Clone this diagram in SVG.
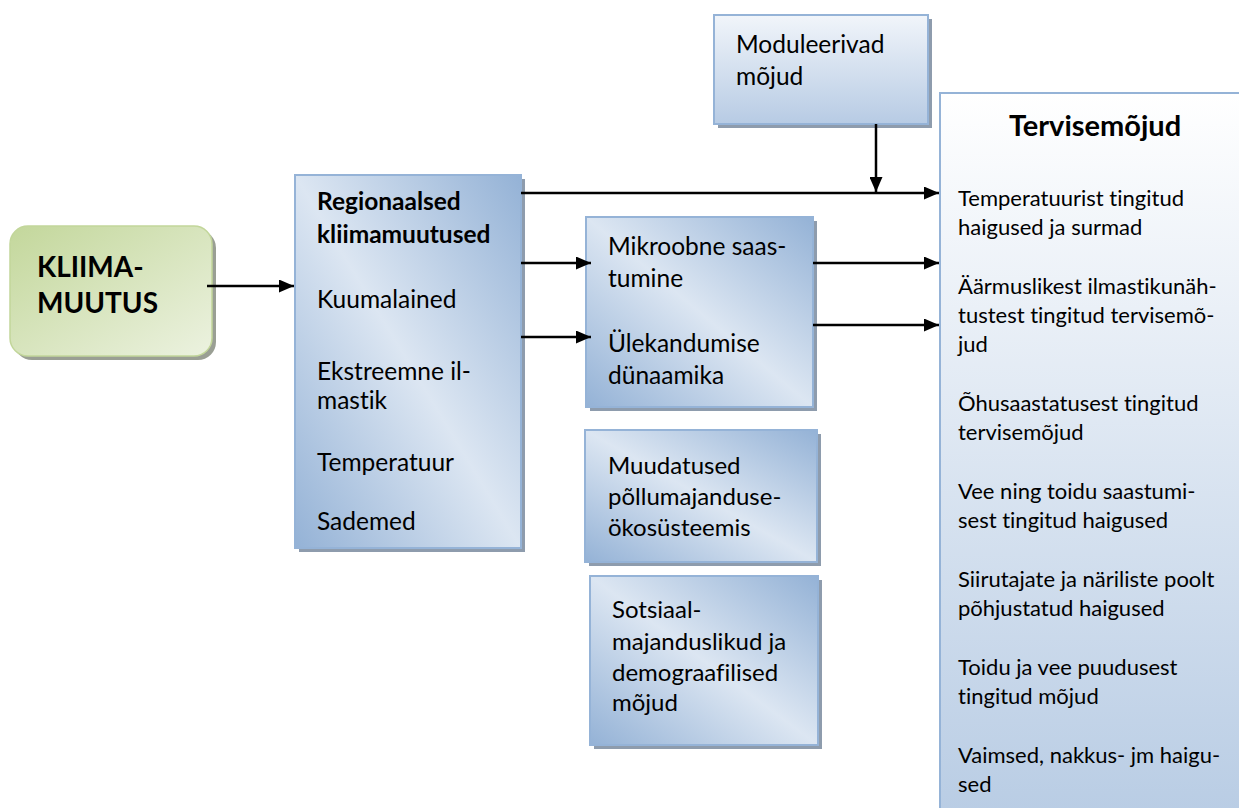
<svg xmlns="http://www.w3.org/2000/svg" width="1239" height="808" viewBox="0 0 1239 808">
<style>
.t{font-family:Lato,"Open Sans","Liberation Sans",sans-serif;font-size:22px;fill:#000;font-variant-ligatures:none;font-feature-settings:"liga" 0}
.m{font-size:24.5px}
.n{font-size:24px}
.b{font-weight:bold}
.box{stroke:#95b3d7;stroke-width:2}
.sh{fill:#8e9cad}
.ln{stroke:#000;stroke-width:2.5;fill:none}
</style>
<defs>
<linearGradient id="gBlue" x1="0" y1="1" x2="1" y2="0">
<stop offset="0" stop-color="#94b2d6"/>
<stop offset="0.5" stop-color="#dce6f2"/>
<stop offset="1" stop-color="#94b2d6"/>
</linearGradient>
<linearGradient id="gGreen" x1="0" y1="0" x2="1" y2="1">
<stop offset="0" stop-color="#c3d79b"/>
<stop offset="1" stop-color="#ecf2e0"/>
</linearGradient>
<linearGradient id="gMod" x1="0" y1="0" x2="0" y2="1">
<stop offset="0" stop-color="#f1f5fa"/>
<stop offset="1" stop-color="#b7cbe4"/>
</linearGradient>
<linearGradient id="gTer" x1="0" y1="0" x2="0" y2="1">
<stop offset="0" stop-color="#ffffff"/>
<stop offset="1" stop-color="#b8cce4"/>
</linearGradient>
<marker id="ah" markerWidth="15" markerHeight="13" refX="15" refY="6.5" orient="auto" markerUnits="userSpaceOnUse">
<path d="M0,0 L15,6.5 L0,13 Z" fill="#000"/>
</marker>
</defs>

<g id="kliima">
<rect x="14" y="230" width="202" height="130" rx="18" fill="#9a9f94"/>
<rect x="10" y="226" width="202" height="130" rx="18" fill="url(#gGreen)" stroke="#c2d69a" stroke-width="1.5"/>
<text class="t b" style="font-size:28px" x="37" y="277">KLIIMA-</text>
<text class="t b" style="font-size:28px" x="37" y="313">MUUTUS</text>
</g>

<g id="regionaalsed">
<rect class="sh" x="299" y="179" width="226" height="373"/>
<rect class="box" x="295" y="175" width="226" height="373" fill="url(#gBlue)"/>
<text class="t m b" x="317" y="210">Regionaalsed</text>
<text class="t m b" x="317" y="243">kliimamuutused</text>
<text class="t m" x="317" y="308">Kuumalained</text>
<text class="t m" x="317" y="380">Ekstreemne il-</text>
<text class="t m" x="317" y="409">mastik</text>
<text class="t m" x="317" y="471">Temperatuur</text>
<text class="t m" x="317" y="530">Sademed</text>
</g>

<g id="mikroobne">
<rect class="sh" x="590" y="221" width="227" height="190"/>
<rect class="box" x="586" y="217" width="227" height="190" fill="url(#gBlue)"/>
<text class="t m" x="608" y="255">Mikroobne saas-</text>
<text class="t m" x="608" y="287">tumine</text>
<text class="t m" x="608" y="352">Ülekandumise</text>
<text class="t m" x="608" y="384">dünaamika</text>
</g>

<g id="moduleerivad">
<rect class="sh" x="718" y="19" width="214" height="109"/>
<rect class="box" x="714" y="15" width="214" height="109" fill="url(#gMod)"/>
<text class="t m" x="736" y="53">Moduleerivad</text>
<text class="t m" x="736" y="85">mõjud</text>
</g>

<g id="muudatused">
<rect class="sh" x="589" y="434" width="232" height="132"/>
<rect class="box" x="585" y="430" width="232" height="132" fill="url(#gBlue)"/>
<text class="t n" x="608" y="474">Muudatused</text>
<text class="t n" x="608" y="505">põllumajanduse-</text>
<text class="t n" x="608" y="536">ökosüsteemis</text>
</g>

<g id="sotsiaal">
<rect class="sh" x="594" y="580" width="228" height="169"/>
<rect class="box" x="590" y="576" width="228" height="169" fill="url(#gBlue)"/>
<text class="t n" x="612" y="618">Sotsiaal-</text>
<text class="t n" x="612" y="650">majanduslikud ja</text>
<text class="t n" x="612" y="681">demograafilised</text>
<text class="t n" x="612" y="711">mõjud</text>
</g>

<g id="tervisemojud">
<rect class="box" x="940" y="93" width="320" height="730" fill="url(#gTer)"/>
<text class="t b" style="font-size:29px" x="1095" y="136" text-anchor="middle">Tervisemõjud</text>
<text class="t" x="958" y="206">Temperatuurist tingitud</text>
<text class="t" x="958" y="235">haigused ja surmad</text>
<text class="t" x="958" y="294">Äärmuslikest ilmastikunäh-</text>
<text class="t" x="958" y="323">tustest tingitud tervisemõ-</text>
<text class="t" x="958" y="352">jud</text>
<text class="t" x="958" y="411">Õhusaastatusest tingitud</text>
<text class="t" x="958" y="440">tervisemõjud</text>
<text class="t" x="958" y="499">Vee ning toidu saastumi-</text>
<text class="t" x="958" y="528">sest tingitud haigused</text>
<text class="t" x="958" y="587">Siirutajate ja näriliste poolt</text>
<text class="t" x="958" y="616">põhjustatud haigused</text>
<text class="t" x="958" y="675">Toidu ja vee puudusest</text>
<text class="t" x="958" y="704">tingitud mõjud</text>
<text class="t" x="958" y="763">Vaimsed, nakkus- jm haigu-</text>
<text class="t" x="958" y="792">sed</text>
</g>

<g id="connectors">
<line class="ln" x1="207" y1="286" x2="294" y2="286" marker-end="url(#ah)"/>
<line class="ln" x1="521" y1="193" x2="939" y2="193" marker-end="url(#ah)"/>
<line class="ln" x1="521" y1="263" x2="591" y2="263" marker-end="url(#ah)"/>
<line class="ln" x1="521" y1="337" x2="591" y2="337" marker-end="url(#ah)"/>
<line class="ln" x1="813" y1="263" x2="939" y2="263" marker-end="url(#ah)"/>
<line class="ln" x1="813" y1="325" x2="939" y2="325" marker-end="url(#ah)"/>
<line class="ln" x1="876" y1="124" x2="876" y2="192" marker-end="url(#ah)"/>
</g>
</svg>
